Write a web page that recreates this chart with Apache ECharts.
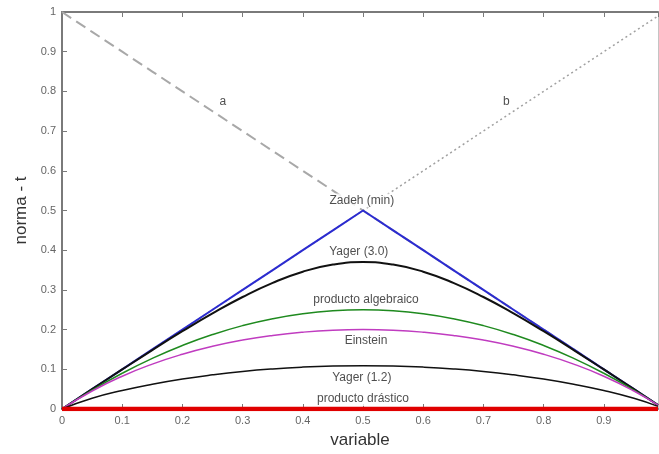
<!DOCTYPE html>
<html>
<head>
<meta charset="utf-8">
<script src="https://cdn.jsdelivr.net/npm/echarts@6/dist/echarts.min.js"></script>
<style>
  html, body { margin: 0; padding: 0; background: #fff; }
  #chart { width: 659px; height: 454px; }
</style>
</head>
<body>
<div id="chart"></div>
<script>
// valores
const xs = [0, 0.05, 0.1, 0.15, 0.2, 0.25, 0.3, 0.35, 0.4, 0.45, 0.5,
  0.55, 0.6, 0.65, 0.7, 0.75, 0.8, 0.85, 0.9, 0.95, 0.99];
const aVals = [1, 0.95, 0.9, 0.85, 0.8, 0.75, 0.7, 0.65, 0.6, 0.55, 0.5,
  0.45, 0.4, 0.35, 0.3, 0.25, 0.2, 0.15, 0.1, 0.05, 0.01];
const bVals = [0, 0.05, 0.1, 0.15, 0.2, 0.25, 0.3, 0.35, 0.4, 0.45, 0.5,
  0.55, 0.6, 0.65, 0.7, 0.75, 0.8, 0.85, 0.9, 0.95, 0.99];
const zadeh = [0, 0.05, 0.1, 0.15, 0.2, 0.25, 0.3, 0.35, 0.4, 0.45, 0.5,
  0.45, 0.4, 0.35, 0.3, 0.25, 0.2, 0.15, 0.1, 0.05, 0.01];
const yager3 = [0, 0.05, 0.0996, 0.1485, 0.1959, 0.2409, 0.2821, 0.3178, 0.3458, 0.3638, 0.37,
  0.3638, 0.3458, 0.3178, 0.2821, 0.2409, 0.1959, 0.1485, 0.0996, 0.05, 0.01];
const algebraico = [0, 0.0475, 0.09, 0.1275, 0.16, 0.1875, 0.21, 0.2275, 0.24, 0.2475, 0.25,
  0.2475, 0.24, 0.2275, 0.21, 0.1875, 0.16, 0.1275, 0.09, 0.0475, 0.0099];
const einstein = [0, 0.0453, 0.0826, 0.1131, 0.1379, 0.1579, 0.1736, 0.1853, 0.1935, 0.1984, 0.2,
  0.1984, 0.1935, 0.1853, 0.1736, 0.1579, 0.1379, 0.1131, 0.0826, 0.0453, 0.0098];
const yager12 = [0, 0.0269, 0.0466, 0.0625, 0.0756, 0.0861, 0.0946, 0.101, 0.1055, 0.1082, 0.1091,
  0.1082, 0.1055, 0.101, 0.0946, 0.0861, 0.0756, 0.0625, 0.0466, 0.0269, 0.0067];
const drastico = [0, 0, 0, 0, 0, 0, 0, 0, 0, 0, 0, 0, 0, 0, 0, 0, 0, 0, 0, 0, 0];

const xTicks = [0, 0.1, 0.2, 0.3, 0.4, 0.5, 0.6, 0.7, 0.8, 0.9];
const yTicks = [0, 0.1, 0.2, 0.3, 0.4, 0.5, 0.6, 0.7, 0.8, 0.9, 1];

// etiquetas dentro del grafico: [x, y, texto]
const notes = [
  [0.267, 0.773, 'a'],
  [0.738, 0.773, 'b'],
  [0.498, 0.525, 'Zadeh (min)'],
  [0.493, 0.395, 'Yager (3.0)'],
  [0.505, 0.275, 'producto algebraico'],
  [0.505, 0.173, 'Einstein'],
  [0.498, 0.08, 'Yager (1.2)'],
  [0.5, 0.025, 'producto drástico']
];

const pair = (ys) => xs.map((x, i) => [x, ys[i]]);
const axisGrey = '#7a7a7a';
const font = 'Liberation Sans, Arial, sans-serif';

function lineSeries(name, ys, color, width, extra) {
  return Object.assign({
    name,
    type: 'line',
    data: pair(ys),
    showSymbol: false,
    symbol: 'none',
    lineStyle: { color, width },
    silent: true,
    animation: false
  }, extra || {});
}

const chart = echarts.init(document.getElementById('chart'));
chart.setOption({
  backgroundColor: '#fff',
  animation: false,
  grid: { left: 62, top: 12, right: 1, bottom: 42 },
  xAxis: [
    {
      type: 'value', min: 0, max: 0.99, interval: 0.1,
      name: 'variable', nameLocation: 'middle', nameGap: 23,
      nameTextStyle: { fontFamily: font, fontSize: 17, color: '#333' },
      axisLine: { onZero: false, lineStyle: { color: axisGrey, width: 2 } },
      axisTick: { inside: true, length: 5, lineStyle: { color: axisGrey } },
      axisLabel: {
        fontFamily: font, fontSize: 11, color: '#666', margin: 6,
        showMaxLabel: false,
        formatter: (v) => xTicks.includes(Math.round(v * 10) / 10) ? String(Math.round(v * 10) / 10) : ''
      },
      splitLine: { show: false }
    },
    {
      type: 'value', min: 0, max: 0.99, interval: 0.1, position: 'top',
      axisLine: { onZero: false, lineStyle: { color: axisGrey, width: 2 } },
      axisTick: { inside: true, length: 5, lineStyle: { color: axisGrey } },
      axisLabel: { show: false },
      splitLine: { show: false }
    }
  ],
  yAxis: [
    {
      type: 'value', min: 0, max: 1, interval: 0.1,
      name: 'norma - t', nameLocation: 'middle', nameGap: 30,
      nameTextStyle: { fontFamily: font, fontSize: 17, color: '#333' },
      axisLine: { show: true, onZero: false, lineStyle: { color: axisGrey, width: 2 } },
      axisTick: { show: true, inside: true, length: 5, lineStyle: { color: axisGrey } },
      axisLabel: {
        fontFamily: font, fontSize: 11, color: '#666', margin: 6,
        formatter: (v) => String(yTicks[Math.round(v * 10)])
      },
      splitLine: { show: false }
    },
    {
      type: 'value', min: 0, max: 1, interval: 0.1, position: 'right',
      axisLine: { show: true, onZero: false, lineStyle: { color: '#c4c4c4', width: 1 } },
      axisTick: { show: false },
      axisLabel: { show: false },
      splitLine: { show: false }
    }
  ],
  series: [
    lineSeries('a', aVals, '#a8a8a8', 2, { lineStyle: { color: '#a8a8a8', width: 2, type: [11, 6] } }),
    lineSeries('b', bVals, '#a0a0a0', 1.5, { lineStyle: { color: '#a0a0a0', width: 1.5, type: [2, 3] } }),
    lineSeries('Zadeh (min)', zadeh, '#2b2bd0', 2),
    lineSeries('Yager (3.0)', yager3, '#111', 2, { smooth: true }),
    lineSeries('producto algebraico', algebraico, '#1f8a1f', 1.5, { smooth: true }),
    lineSeries('Einstein', einstein, '#c03cc0', 1.5, { smooth: true }),
    lineSeries('Yager (1.2)', yager12, '#111', 1.5, { smooth: true }),
    lineSeries('producto drástico', drastico, '#e00000', 4.5),
    // serie vacia para los ejes superior y derecho
    { type: 'line', xAxisIndex: 1, yAxisIndex: 1, data: [], silent: true },
    {
      type: 'scatter',
      data: notes.map((n) => ({ value: [n[0], n[1]], name: n[2] })),
      symbolSize: 0,
      silent: true,
      z: 10,
      label: {
        show: true,
        position: 'inside',
        formatter: (p) => p.name,
        fontFamily: font,
        fontSize: 12,
        color: '#222',
        backgroundColor: '#fff',
        padding: [1, 2]
      }
    }
  ]
});
</script>
</body>
</html>
